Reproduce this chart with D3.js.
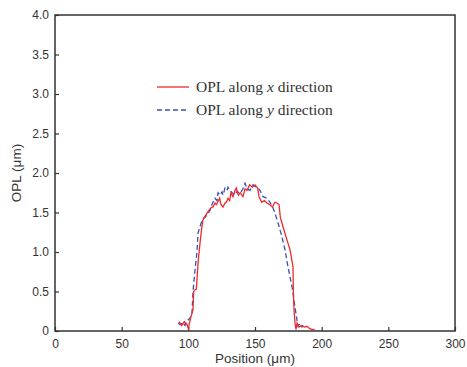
<!DOCTYPE html>
<html>
<head>
<meta charset="utf-8">
<script src="https://cdn.jsdelivr.net/npm/d3@7"></script>
<style>
  body { margin: 0; background: #fff; }
  svg text { font-family: "Liberation Sans", Arial, sans-serif; fill: #333; }
</style>
</head>
<body>
<script>
// data
var xTicks = [0, 50, 100, 150, 200, 250, 300];
var yTicks = [0, 0.5, 1.0, 1.5, 2.0, 2.5, 3.0, 3.5, 4.0];

var xPos = [93, 95, 97, 99, 100, 101.5, 103.5, 104, 105, 106, 106.5, 107.5, 108.75, 110, 111, 112.5, 114.75, 117, 118.5, 120, 121, 122, 123.5, 124.5, 126, 127.5, 128.5, 129.75, 131, 132, 133.5, 135, 136, 137.5, 139, 141, 142.5, 144, 146, 148, 150, 152, 153, 155, 157, 159, 161, 163, 165, 166.5, 168, 169, 171, 174, 176.25, 178.5, 178.75, 179.25, 180, 180.75, 181.5, 183, 185, 187, 189, 191, 193, 195];
var xOpl = [0.12, 0.07, 0.12, 0.08, 0.03, 0.15, 0.27, 0.5, 0.52, 0.53, 0.65, 0.9, 1.11, 1.3, 1.41, 1.45, 1.51, 1.56, 1.57, 1.62, 1.6, 1.63, 1.68, 1.6, 1.57, 1.62, 1.63, 1.68, 1.65, 1.75, 1.7, 1.78, 1.81, 1.72, 1.75, 1.7, 1.8, 1.78, 1.85, 1.82, 1.85, 1.81, 1.7, 1.63, 1.65, 1.62, 1.6, 1.57, 1.63, 1.62, 1.6, 1.44, 1.32, 1.15, 1.03, 0.81, 0.52, 0.27, 0.1, 0.02, 0.1, 0.05, 0.07, 0.05, 0.06, 0.03, 0.02, 0.01];

var yPos = [92.25, 93.75, 96, 97.5, 99.75, 101.25, 102.75, 103.5, 105, 106.5, 107.25, 108.75, 110.25, 112.5, 114.75, 116.25, 117.75, 118.5, 120, 121.5, 122.25, 123.75, 125.25, 126, 127.5, 129, 129.75, 131.25, 132.75, 135, 136.5, 138.75, 141, 142.5, 144, 146.25, 148.5, 150, 151.5, 153.75, 156, 159, 161.25, 163.5, 165, 167.25, 168.75, 170.25, 172.5, 174.75, 177.75, 180, 181.5, 182.25, 183.75, 185.25, 186];
var yOpl = [0.1, 0.08, 0.11, 0.07, 0.14, 0.16, 0.23, 0.5, 0.77, 1.0, 1.24, 1.32, 1.4, 1.44, 1.48, 1.53, 1.6, 1.63, 1.68, 1.65, 1.75, 1.72, 1.76, 1.72, 1.81, 1.78, 1.82, 1.78, 1.75, 1.72, 1.77, 1.74, 1.8, 1.87, 1.8, 1.78, 1.85, 1.83, 1.82, 1.78, 1.7, 1.68, 1.63, 1.56, 1.49, 1.37, 1.28, 1.19, 1.03, 0.81, 0.56, 0.3, 0.14, 0.06, 0.1, 0.05, 0.07];

var width = 467, height = 367;
var pLeft = 55, pRight = 455, pTop = 15, pBottom = 331;

var svg = d3.select('body').append('svg').attr('width', width).attr('height', height);

var xScale = d3.scaleLinear().domain([0, 300]).range([pLeft, pRight]);
var yScale = d3.scaleLinear().domain([0, 4]).range([pBottom, pTop]);

// frame
svg.append('rect')
  .attr('x', pLeft).attr('y', pTop)
  .attr('width', pRight - pLeft).attr('height', pBottom - pTop)
  .attr('fill', 'none').attr('stroke', '#333').attr('stroke-width', 1.5);

// axes, ticks inward
var xAxis = svg.append('g').attr('transform', 'translate(0,' + pBottom + ')')
  .call(d3.axisBottom(xScale).tickValues(xTicks).tickSizeInner(-4).tickSizeOuter(0).tickPadding(8)
    .tickFormat(d3.format('d')));
var yAxis = svg.append('g').attr('transform', 'translate(' + pLeft + ',0)')
  .call(d3.axisLeft(yScale).tickValues(yTicks).tickSizeInner(-4).tickSizeOuter(0).tickPadding(6)
    .tickFormat(function(d) { return d === 0 ? '0' : d3.format('.1f')(d); }));

[xAxis, yAxis].forEach(function(a) {
  a.select('.domain').remove();
  a.selectAll('line').attr('stroke', '#333').attr('stroke-width', 1.2);
  a.selectAll('text').style('font-size', '12px').attr('fill', '#333');
});

// axis labels
svg.append('text')
  .attr('x', (pLeft + pRight) / 2).attr('y', 363)
  .attr('text-anchor', 'middle').style('font-size', '13.5px')
  .text('Position (\u03bcm)');

svg.append('text')
  .attr('transform', 'translate(21,' + ((pTop + pBottom) / 2) + ') rotate(-90)')
  .attr('text-anchor', 'middle').style('font-size', '13.5px')
  .text('OPL (\u03bcm)');

// lines
var line = d3.line()
  .x(function(d) { return xScale(d[0]); })
  .y(function(d) { return yScale(d[1]); });

var blueData = yPos.map(function(p, i) { return [p, yOpl[i]]; });
var redData = xPos.map(function(p, i) { return [p, xOpl[i]]; });

svg.append('path')
  .attr('d', line(blueData))
  .attr('fill', 'none').attr('stroke', '#3b4fb8').attr('stroke-width', 1.3)
  .attr('stroke-dasharray', '5,3');

svg.append('path')
  .attr('d', line(redData))
  .attr('fill', 'none').attr('stroke', '#ee2a2a').attr('stroke-width', 1.3);

// legend
var legend = svg.append('g');
var items = [
  { color: '#ee2a2a', dash: null, axis: 'x', y: 87 },
  { color: '#3b4fb8', dash: '5,3', axis: 'y', y: 110 }
];
items.forEach(function(it) {
  legend.append('line')
    .attr('x1', 157).attr('x2', 189).attr('y1', it.y).attr('y2', it.y)
    .attr('stroke', it.color).attr('stroke-width', 1.3)
    .attr('stroke-dasharray', it.dash);
  var t = legend.append('text')
    .attr('x', 196).attr('y', it.y + 5)
    .style('font-family', '"Liberation Serif", "Times New Roman", serif')
    .style('font-size', '15.5px');
  t.append('tspan').text('OPL along ');
  t.append('tspan').style('font-style', 'italic').text(it.axis);
  t.append('tspan').text(' direction');
});
</script>
</body>
</html>
